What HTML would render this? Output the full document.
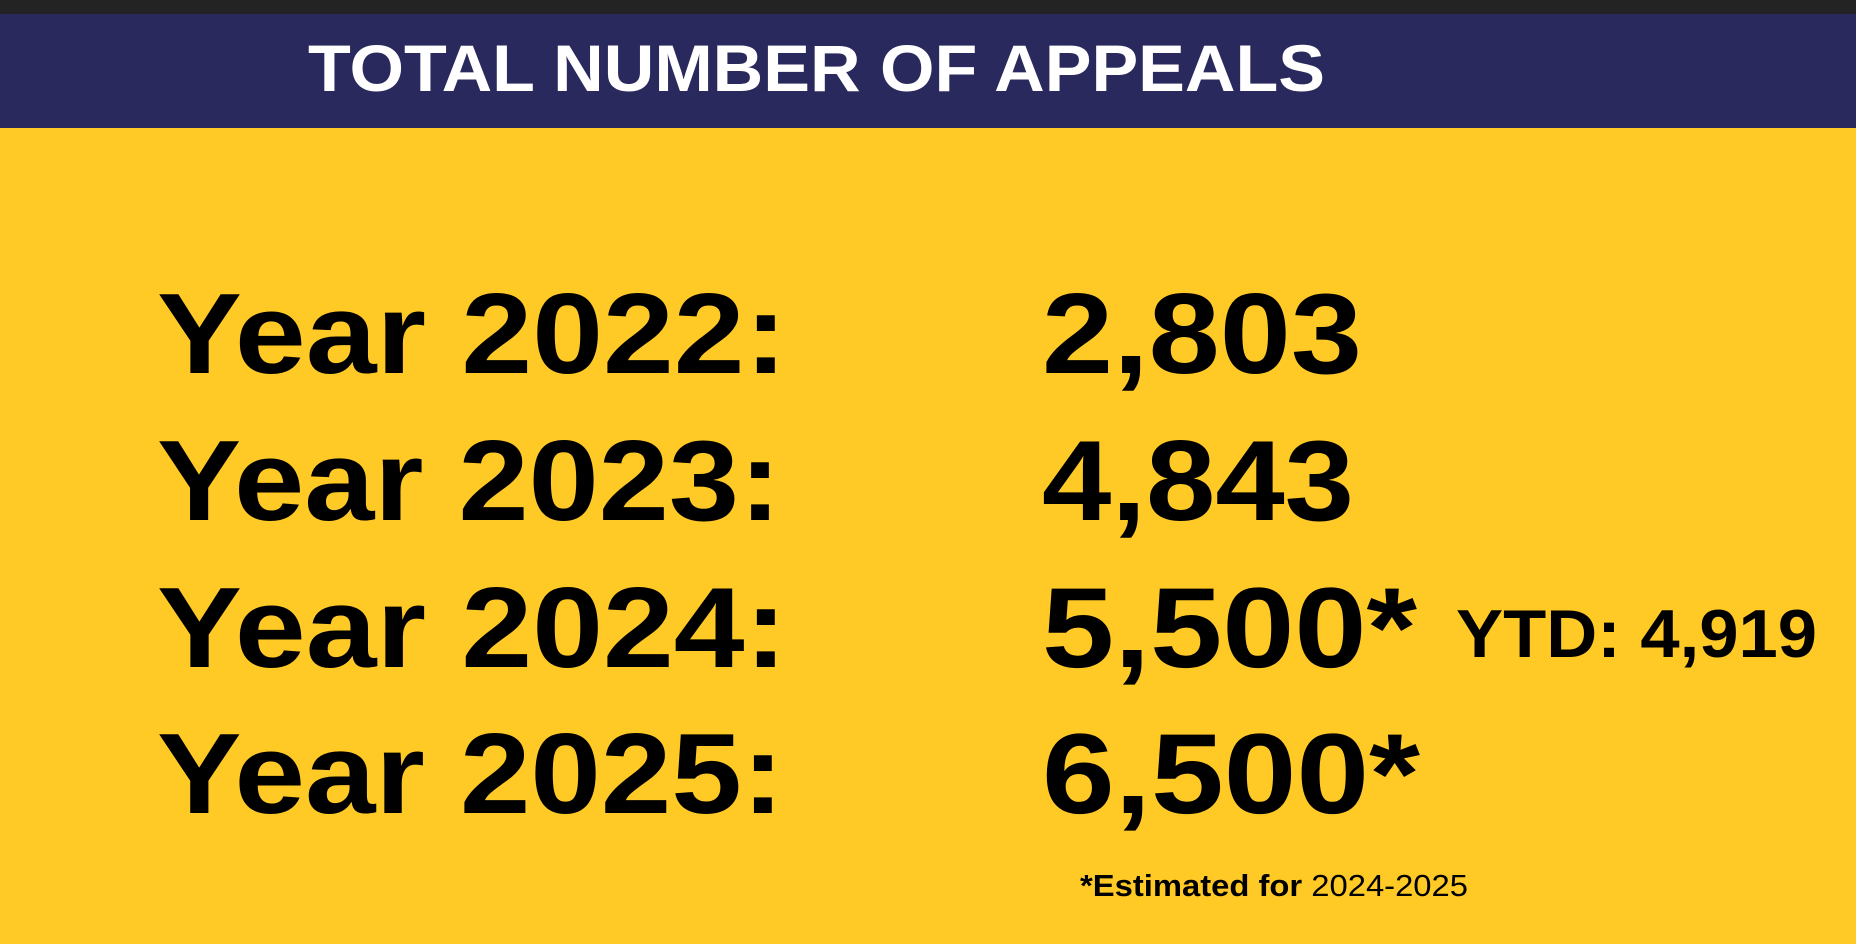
<!DOCTYPE html>
<html><head><style>
html,body{margin:0;padding:0;width:1856px;height:944px;overflow:hidden;background:#ffc926;}
svg{display:block}
</style></head><body>
<svg width="1856" height="944" xmlns="http://www.w3.org/2000/svg" font-family="Liberation Sans, sans-serif" font-weight="bold">
<rect x="0" y="0" width="1856" height="944" fill="#ffc926"/>
<rect x="0" y="0" width="1856" height="128" fill="#29295e"/>
<rect x="0" y="0" width="1856" height="14" fill="#232323"/>
<text x="308" y="91" font-size="66" fill="#fff" textLength="1017" lengthAdjust="spacingAndGlyphs">TOTAL NUMBER OF APPEALS</text>
<g font-size="114" fill="#000">
<text x="157" y="373" textLength="630" lengthAdjust="spacingAndGlyphs">Year 2022:</text>
<text x="157" y="520" textLength="624" lengthAdjust="spacingAndGlyphs">Year 2023:</text>
<text x="157" y="667" textLength="630" lengthAdjust="spacingAndGlyphs">Year 2024:</text>
<text x="157" y="813" textLength="627" lengthAdjust="spacingAndGlyphs">Year 2025:</text>
<text x="1042" y="373" textLength="320" lengthAdjust="spacingAndGlyphs">2,803</text>
<text x="1042" y="520" textLength="312" lengthAdjust="spacingAndGlyphs">4,843</text>
<text x="1042" y="667" textLength="375" lengthAdjust="spacingAndGlyphs">5,500*</text>
<text x="1042" y="813" textLength="378" lengthAdjust="spacingAndGlyphs">6,500*</text>
</g>
<text x="1456" y="657" font-size="68" fill="#000" textLength="361" lengthAdjust="spacingAndGlyphs">YTD: 4,919</text>
<text x="1080" y="896" font-size="31" fill="#000" textLength="388" lengthAdjust="spacingAndGlyphs">*Estimated for <tspan font-weight="normal">2024-2025</tspan></text>
</svg>
</body></html>
